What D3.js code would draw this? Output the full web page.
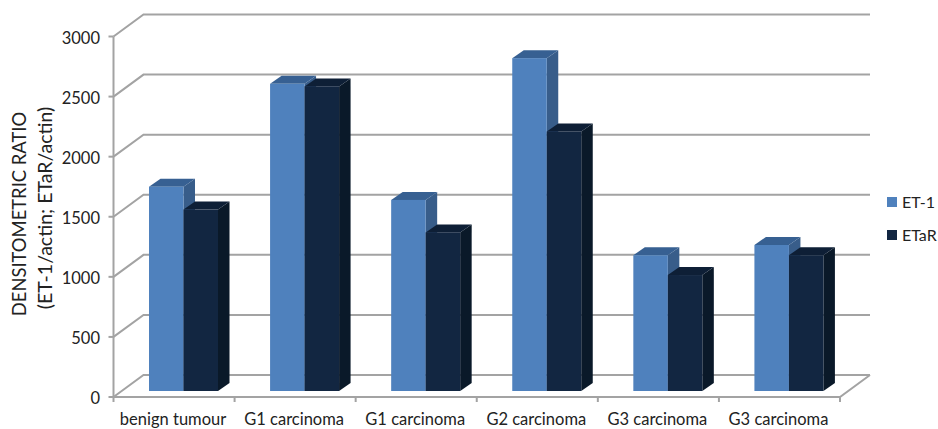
<!DOCTYPE html>
<html><head><meta charset="utf-8">
<script src="https://cdnjs.cloudflare.com/ajax/libs/d3/7.8.5/d3.min.js"></script>
<style>html,body{margin:0;padding:0;background:#fff}svg{display:block}text{font-family:Lato,"Open Sans",sans-serif;fill:#222}</style>
</head><body><svg id="c" width="938" height="429"></svg>
<script>
const categories=["benign tumour","G1 carcinoma","G1 carcinoma","G2 carcinoma","G3 carcinoma","G3 carcinoma"];
const seriesNames=["ET-1","ETaR"];
const et1=[1700,2556,1590,2770,1130,1215];
const etar=[1510,2535,1320,2160,965,1130];
const yTicks=[0,500,1000,1500,2000,2500,3000];
const colors={"ET-1":{front:"#4f81bd",top:"#376092",side:"#385d8a"},"ETaR":{front:"#122641",top:"#0e1f36",side:"#0a1929"}};

const svg=d3.select("#c");
const x=d3.scaleBand().domain(d3.range(categories.length)).range([113.5,840]);
const y=d3.scaleLinear().domain([0,3000]).range([397,36.5]);
const wallDx=30,wallDy=-22;
const grid="#a3a3a3";
const g=svg.append("g").attr("fill","none").attr("stroke",grid).attr("stroke-width",2);

yTicks.forEach(t=>{
  g.append("path").attr("d",`M${x.range()[0]},${y(t)}L${x.range()[0]+wallDx},${y(t)+wallDy}H${x.range()[1]+wallDx}`);
  g.append("path").attr("d",`M${x.range()[0]-5},${y(t)}H${x.range()[0]}`);
});
g.append("path").attr("d",`M${x.range()[0]},${y(3000)}V${y(0)}H${x.range()[1]}L${x.range()[1]+wallDx},${y(0)+wallDy}`);
d3.range(categories.length+1).forEach(i=>{
  const px=x.range()[0]+i*x.bandwidth();
  g.append("path").attr("d",`M${px},${y(0)}V${y(0)+5}`);
});

const barW=34.5,off=35.5,dx=11.5,dy=8,baseShift=6;
const yb=v=>y(v)-baseShift;
[et1,etar].forEach((vals,s)=>{
  const c=colors[seriesNames[s]];
  const bars=svg.append("g").selectAll("g").data(vals).join("g");
  const X=(d,i)=>x(i)+off+s*barW;
  bars.append("path").attr("fill",c.side).attr("d",(d,i)=>{
    const l=X(d,i)+barW;
    return `M${l},${yb(d)}L${l+dx},${yb(d)-dy}V${yb(0)-dy}L${l},${yb(0)}Z`;});
  bars.append("path").attr("fill",c.top).attr("d",(d,i)=>{
    const l=X(d,i);
    return `M${l},${yb(d)}L${l+dx},${yb(d)-dy}H${l+dx+barW}L${l+barW},${yb(d)}Z`;});
  bars.append("rect").attr("fill",c.front).attr("x",X).attr("y",d=>yb(d)).attr("width",barW).attr("height",d=>yb(0)-yb(d));
});

svg.append("g").selectAll("text").data(yTicks).join("text")
  .attr("x",100).attr("y",d=>y(d)+7).attr("text-anchor","end").attr("font-size",16.5).text(d=>d);
svg.append("g").selectAll("text").data(categories).join("text")
  .attr("x",(d,i)=>x(i)+x.bandwidth()/2-1).attr("y",425).attr("text-anchor","middle").attr("font-size",16.5).text(d=>d);

const t=svg.append("g");
t.append("text").attr("transform","translate(26,214) rotate(-90)").attr("text-anchor","middle").attr("font-size",18.4).text("DENSITOMETRIC RATIO");
t.append("text").attr("transform","translate(52,208) rotate(-90)").attr("text-anchor","middle").attr("font-size",19.5).text("(ET-1/actin; ETaR/actin)");

const leg=svg.append("g").selectAll("g").data(seriesNames).join("g")
  .attr("transform",(d,i)=>`translate(887,${202+i*33})`);
leg.append("rect").attr("x",0).attr("y",-5).attr("width",10).attr("height",10).attr("fill",d=>colors[d].front);
leg.append("text").attr("x",15).attr("y",6).attr("font-size",16).text(d=>d);
</script></body></html>
